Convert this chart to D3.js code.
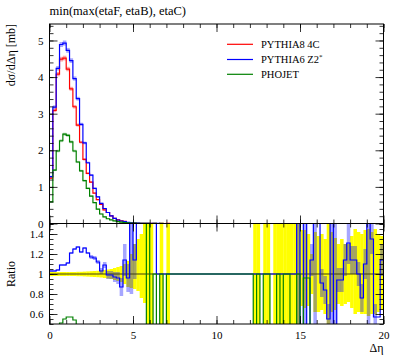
<!DOCTYPE html>
<html><head><meta charset="utf-8">
<script src="https://cdn.jsdelivr.net/npm/d3@7"></script>
<style>
body{margin:0;background:#fff}
svg{display:block}
svg text{font-family:'Liberation Serif','DejaVu Serif',serif !important}
</style></head>
<body><svg id="c" width="397" height="358"></svg>
<script>
// ---------------- data ----------------
const title = "min(max(etaF, etaB), etaC)";
const seriesNames = ["PYTHIA8 4C", "PYTHIA6 Z2", "PHOJET"];
const seriesSup = ["", "*", ""];
const seriesColors = ["#ff0000", "#0000ff", "#008000"];
const binLow = 0, binWidth = 0.2, nBins = 100;

// main panel: dsigma/dDeta [mb], bins 0..35 (0.0 - 7.2); beyond is empty
const redMain = [1.24,3.09,4.08,4.49,4.52,4.22,3.68,3.19,2.69,2.22,1.75,1.37,1.13,0.83,0.65,0.52,0.37,0.30,0.21,0.14,0.10,0.074,0.057,0.026,0.015,0.010,0.007,0.005,0.003,0.002,0.001,0.001,0,0.001,0,0.001];
const blueMain = [1.28,3.18,4.24,4.89,4.93,4.73,4.45,3.96,3.41,2.71,2.20,1.66,1.32,0.96,0.73,0.55,0.41,0.30,0.21,0.14,0.095,0.068,0.05,0.03,0.02,0.012,0.008,0.005,0.004,0.003,0.002,0.001,0.001,0,0,0];
const greenMain = [0.59,1.46,1.98,2.26,2.44,2.41,2.23,1.98,1.68,1.44,1.17,0.96,0.75,0.57,0.39,0.26,0.18,0.13,0.10,0.07,0.05,0.035,0.025,0.018,0.012,0.008,0.005,0.003,0.002,0.001,0,0.001,0,0.001,0,0];

// ratio panel (to PYTHIA8 4C), one value per bin (0..99); 2 = above the frame, 0 = below, null = not drawn
const ratioBlue = [1.03,1.03,1.04,1.09,1.09,1.11,1.21,1.25,1.27,1.22,1.26,1.21,1.17,1.16,1.12,1.03,1.09,0.99,0.99,0.97,
  0.96,0.87,1.14,0.96,2,1.14,2,2,2,2,2,2,1,1,1,1,1,1,1,1,
  1,1,1,1,1,1,1,1,1,1,1,1,1,1,1,1,1,1,1,1,
  1,1,1,1,1,1,1,1,1,1,1,1,1,1,2,0,2,0,1.14,2,
  2,0.91,0.84,0.55,2,0,0.94,0.94,1.14,1.31,1.14,1.14,1.0,0.76,1.1,2,1.35,0.57,0.57,1.14];
const ratioGreen = [0.45,0.46,0.48,0.51,0.55,0.57,0.57,0.54,0.49,0.46,0.45,0.44,0.43,0.42,0.42,0.41,0.40,0.40,0.40,0.39,
  0.39,0.38,0.38,0.37,0.40,0.38,0.45,0.42,0.40,2,0,1,0,1,0,1,1,1,1,1,
  1,1,1,1,1,1,1,1,1,1,1,1,1,1,1,1,1,1,1,1,
  1,0,1,0,1,1,0,0,1,0,1,1,0,0,1,0,0.96,0.96,0,null,
  null,null,null,null,null,null,null,null,null,null,null,null,null,null,null,null,null,null,null,null];
// reference (PYTHIA8 4C) uncertainty band, null = no band
const bandHi = [1.022,1.02,1.02,1.02,1.02,1.02,1.02,1.02,1.022,1.022,1.024,1.026,1.028,1.03,1.032,1.035,1.04,1.045,1.05,1.06,
  1.07,1.08,1.1,1.13,1.2,1.3,1.35,1.4,1.55,2,2,null,null,2,null,2,null,null,null,null,
  null,null,null,null,null,null,null,null,null,null,null,null,null,null,null,null,null,null,null,null,
  null,2,2,null,2,2,null,2,2,2,2,2,2,2,2,1.44,1.44,1.4,1.2,1.42,
  1.38,1.4,1.35,2,1.42,1.36,1.3,1.35,1.3,1.3,1.38,1.45,1.42,1.4,1.44,1.45,1.42,1.45,1.4,1.38];
const bandLo = [0.978,0.98,0.98,0.98,0.98,0.98,0.98,0.98,0.978,0.978,0.976,0.974,0.972,0.97,0.968,0.965,0.96,0.955,0.95,0.94,
  0.93,0.92,0.9,0.87,0.86,0.85,0.83,0.76,0.71,0,0,null,null,0,null,0,null,null,null,null,
  null,null,null,null,null,null,null,null,null,null,null,null,null,null,null,null,null,null,null,null,
  null,0,0,null,0,0,null,0,0,0,0,0,0,0,0,0.68,0.66,0.68,0.8,0.62,
  0.62,0.64,0.6,0,0.62,0.64,0.7,0.68,0.7,0.72,0.66,0.6,0.62,0.6,0.6,0.58,0.6,0.6,0.62,0.64];
// PYTHIA6 Z2* uncertainty in the ratio (translucent)
const blueErrHi = [1.04,1.04,1.05,1.1,1.1,1.12,1.22,1.26,1.28,1.23,1.27,1.22,1.19,1.18,1.14,1.06,1.12,1.03,1.03,1.02,
  1.02,0.96,1.3,1.1,2,1.3,null,null,null,null,null,null,null,null,null,null,null,null,null,null,
  null,null,null,null,null,null,null,null,null,null,null,null,null,null,null,null,null,null,null,null,
  null,null,null,null,null,null,null,null,null,null,null,null,null,null,2,null,2,null,1.3,2,
  null,1.05,0.98,0.7,2,2,1.06,1.06,1.3,1.5,1.28,1.28,1.12,0.9,1.25,2,1.5,0.7,null,1.3];
const blueErrLo = [1.02,1.02,1.03,1.08,1.08,1.1,1.2,1.24,1.26,1.21,1.25,1.2,1.15,1.14,1.1,1.0,1.06,0.95,0.95,0.92,
  0.9,0.78,0.98,0.82,0.8,0.95,null,null,null,null,null,null,null,null,null,null,null,null,null,null,
  null,null,null,null,null,null,null,null,null,null,null,null,null,null,null,null,null,null,null,null,
  null,null,null,null,null,null,null,null,null,null,null,null,null,null,0,null,0,null,0.98,0,
  null,0.77,0.7,0.4,0,0,0.82,0.82,0.98,1.1,1.0,1.0,0.88,0.62,0.95,0,1.2,0.44,null,0.98];

const xTicksMajor = [0,5,10,15,20];
const yMainTicks = [0,1,2,3,4,5];
const yRatioTicks = [0.6,0.8,1,1.2,1.4];
const yRatioLabels = ["0.6","0.8","1","1.2","1.4"];

// ---------------- layout ----------------
const FONT = "'Liberation Serif', 'DejaVu Serif', serif";
const svg = d3.select("#c");
const L = 49.5, R = 383.5, T = 24, M = 223.5, B = 324;
const x = d3.scaleLinear().domain([0,20]).range([L,R]);
const yM = d3.scaleLinear().domain([0,5.45]).range([M,T]);
const yR = d3.scaleLinear().domain([0.5,1.505]).range([B,M]);

const edges = d3.range(nBins+1).map(i => binLow + i*binWidth);
const pad = a => a.concat(new Array(nBins - a.length).fill(0));

svg.append("clipPath").attr("id","cm").append("rect").attr("x",L).attr("y",T).attr("width",R-L).attr("height",M-T);
svg.append("clipPath").attr("id","cr").append("rect").attr("x",L).attr("y",M).attr("width",R-L).attr("height",B-M);

function stepPath(vals, ys){
  let segs=[], cur=[];
  vals.forEach((v,i)=>{
    if(v==null){ if(cur.length) segs.push(cur); cur=[]; return; }
    cur.push([edges[i],v],[edges[i+1],v]);
  });
  if(cur.length) segs.push(cur);
  const line = d3.line().x(d=>x(d[0])).y(d=>ys(d[1]));
  return segs.map(s=>line(s)).join("");
}
function bandRects(g, hi, lo, ys, fill, op){
  g.append("g").selectAll("rect").data(hi.map((h,i)=>({h,l:lo[i],i})).filter(d=>d.h!=null)).join("rect")
    .attr("x",d=>x(edges[d.i])).attr("width",d=>x(edges[d.i+1])-x(edges[d.i])+0.2)
    .attr("y",d=>ys(d.h)).attr("height",d=>ys(d.l)-ys(d.h)).attr("fill",fill).attr("opacity",op);
}

// ---------- main panel ----------
const gm = svg.append("g").attr("clip-path","url(#cm)");
const mainSeries = [pad(redMain), pad(blueMain), pad(greenMain)];
mainSeries.forEach((vals,si)=>{
  bandRects(gm, vals.map(v=>v>0?v*1.012+0.01:null), vals.map(v=>v*0.988-0.01), yM, seriesColors[si], 0.35);
});
mainSeries.forEach((vals,si)=>{
  gm.append("path").attr("d",stepPath(vals,yM)).attr("fill","none")
    .attr("stroke",seriesColors[si]).attr("stroke-width",1.2);
});

// ---------- ratio panel ----------
const gr = svg.append("g").attr("clip-path","url(#cr)");
bandRects(gr, bandHi, bandLo, yR, "#ffff00", 1);
bandRects(gr, blueErrHi, blueErrLo, yR, "#0000ff", 0.35);
gr.append("line").attr("x1",L).attr("x2",R).attr("y1",yR(1)).attr("y2",yR(1))
  .attr("stroke","#3c3c10").attr("stroke-width",1.2);
gr.append("path").attr("d",stepPath(ratioBlue,yR)).attr("fill","none").attr("stroke","#0000ff").attr("stroke-width",1.2);
gr.append("path").attr("d",stepPath(ratioGreen,yR)).attr("fill","none").attr("stroke","#008000").attr("stroke-width",1.2);

// ---------- frames & axes ----------
svg.append("rect").attr("x",L).attr("y",T).attr("width",R-L).attr("height",M-T).attr("fill","none").attr("stroke","#000").attr("stroke-width",1);
svg.append("rect").attr("x",L).attr("y",M).attr("width",R-L).attr("height",B-M).attr("fill","none").attr("stroke","#000").attr("stroke-width",1);

function ticks(g, axisFn, scale, vals, size, fmt, padd){
  const a = axisFn(scale).tickValues(vals).tickSize(size).tickPadding(padd||3).tickFormat(fmt||"");
  g.call(a); g.select(".domain").remove();
  g.attr("font-family",FONT).attr("font-size",11);
  g.selectAll("line").attr("stroke","#000").attr("stroke-width",0.8);
  g.selectAll("text").attr("fill","#000");
}
const minorX = d3.range(0,21,1);
[[M,d3.axisBottom],[T,d3.axisTop],[B,d3.axisBottom],[M,d3.axisTop]].forEach(([yy,fn])=>{
  ticks(svg.append("g").attr("transform",`translate(0,${yy})`),fn,x,minorX,-4);
  ticks(svg.append("g").attr("transform",`translate(0,${yy})`),fn,x,xTicksMajor,-8);
});
ticks(svg.append("g").attr("transform",`translate(0,${B})`),d3.axisBottom,x,xTicksMajor,0,d3.format("d"),7);

const minorYM = d3.range(0,5.45,0.2);
[[L,d3.axisLeft],[R,d3.axisRight]].forEach(([xx,fn])=>{
  ticks(svg.append("g").attr("transform",`translate(${xx},0)`),fn,yM,minorYM,-4);
  ticks(svg.append("g").attr("transform",`translate(${xx},0)`),fn,yM,yMainTicks,-8);
});
ticks(svg.append("g").attr("transform",`translate(${L},0)`),d3.axisLeft,yM,yMainTicks,0,d3.format("d"),6);

const minorYR = d3.range(0.5,1.51,0.05);
[[L,d3.axisLeft],[R,d3.axisRight]].forEach(([xx,fn])=>{
  ticks(svg.append("g").attr("transform",`translate(${xx},0)`),fn,yR,minorYR,-4);
  ticks(svg.append("g").attr("transform",`translate(${xx},0)`),fn,yR,yRatioTicks,-8);
});
ticks(svg.append("g").attr("transform",`translate(${L},0)`),d3.axisLeft,yR,yRatioTicks,0,(d,i)=>yRatioLabels[i],6);

// ---------- texts ----------
const txt = (sel)=>sel.attr("font-family",FONT).attr("fill","#000");
txt(svg.append("text")).attr("x",L).attr("y",15).attr("font-size",12.5).text(title);
txt(svg.append("text")).attr("transform",`translate(15,${T}) rotate(-90)`).attr("text-anchor","end").attr("font-size",12).text("dσ/dΔη [mb]");
txt(svg.append("text")).attr("transform",`translate(15,274) rotate(-90)`).attr("text-anchor","middle").attr("font-size",12).text("Ratio");
txt(svg.append("text")).attr("x",R).attr("y",352).attr("text-anchor","end").attr("font-size",12).text("Δη");

// ---------- legend ----------
const legY = [44.3, 59.5, 74.3];
seriesNames.forEach((n,i)=>{
  svg.append("line").attr("x1",227).attr("x2",253).attr("y1",legY[i]).attr("y2",legY[i]).attr("stroke",seriesColors[i]).attr("stroke-width",1.2);
  const t = txt(svg.append("text")).attr("x",261).attr("y",legY[i]+3.8).attr("font-size",10.5).text(n);
  if(seriesSup[i]) t.append("tspan").attr("font-size",7).attr("dy",-4).text(seriesSup[i]);
});
</script></body></html>
